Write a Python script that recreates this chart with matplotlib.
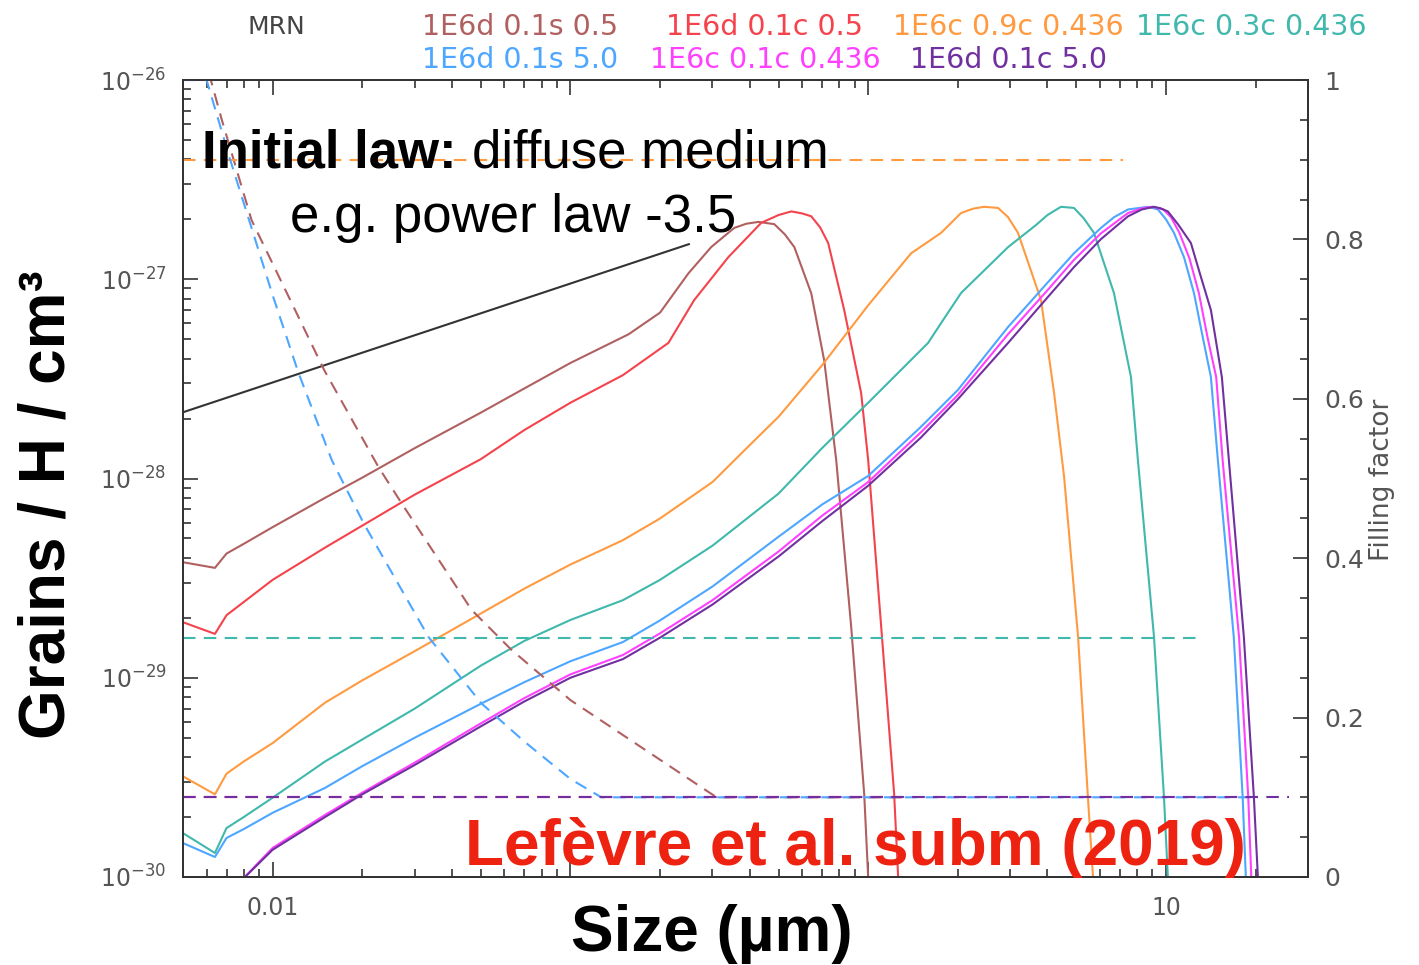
import numpy as np
import matplotlib
matplotlib.use('Agg')
import matplotlib.pyplot as plt
from matplotlib.ticker import LogLocator, FixedLocator, MultipleLocator, NullFormatter

# grain size distributions (left axis)
mrn_x = [0.005, 0.25]
mrn_y = [2.15e-28, 1.5e-27]

brown_x = [0.005, 0.0064, 0.007, 0.008, 0.01, 0.015, 0.02, 0.03, 0.05, 0.07, 0.1, 0.157, 0.2, 0.249, 0.297,
           0.355, 0.39, 0.428, 0.484, 0.525, 0.565, 0.644, 0.712, 0.781, 0.877, 0.970, 1.0, 1.02]
brown_y = [3.8e-29, 3.56e-29, 4.2e-29, 4.7e-29, 5.7e-29, 8.0e-29, 1.01e-28, 1.42e-28, 2.14e-28, 2.83e-28,
           3.8e-28, 5.3e-28, 6.8e-28, 1.07e-27, 1.45e-27, 1.81e-27, 1.9e-27, 1.94e-27, 1.89e-27, 1.68e-27,
           1.45e-27, 8.5e-28, 3.9e-28, 1.24e-28, 1.8e-29, 2.6e-30, 1.0e-30, 5e-31]

red_x = [0.005, 0.0064, 0.007, 0.008, 0.01, 0.015, 0.02, 0.03, 0.05, 0.07, 0.1, 0.15, 0.2133, 0.2606, 0.339,
         0.4375, 0.5, 0.552, 0.6, 0.644, 0.69, 0.734, 0.831, 0.947, 1.0, 1.106, 1.222, 1.261]
red_y = [1.9e-29, 1.66e-29, 2.06e-29, 2.4e-29, 3.1e-29, 4.5e-29, 5.8e-29, 8.3e-29, 1.25e-28, 1.75e-28,
         2.4e-28, 3.3e-28, 4.79e-28, 7.87e-28, 1.29e-27, 1.92e-27, 2.1e-27, 2.19e-27, 2.14e-27, 2.07e-27,
         1.82e-27, 1.52e-27, 7.0e-28, 2.69e-28, 1.24e-28, 1.8e-29, 2.64e-30, 1.0e-30]

orange_x = [0.005, 0.0064, 0.007, 0.008, 0.01, 0.015, 0.02, 0.03, 0.05, 0.07, 0.1, 0.15, 0.2, 0.3, 0.4,
            0.5, 0.7, 1.0, 1.394, 1.758, 2.051, 2.25, 2.449, 2.73, 2.95, 3.185, 3.806, 4.21, 4.55, 5.07,
            5.47, 5.69]
orange_y = [3.2e-30, 2.6e-30, 3.3e-30, 3.8e-30, 4.7e-30, 7.5e-30, 9.7e-30, 1.36e-29, 2.1e-29, 2.8e-29,
            3.7e-29, 4.9e-29, 6.3e-29, 9.6e-29, 1.47e-28, 2.04e-28, 3.7e-28, 7.4e-28, 1.35e-27, 1.71e-27,
            2.15e-27, 2.26e-27, 2.31e-27, 2.28e-27, 2.05e-27, 1.71e-27, 7.87e-28, 2.69e-28, 1.02e-28, 1.6e-29,
            2.52e-30, 1.0e-30]

teal_x = [0.005, 0.0064, 0.007, 0.008, 0.01, 0.015, 0.02, 0.03, 0.05, 0.07, 0.1, 0.15, 0.2, 0.3, 0.5,
          0.7, 1.0, 1.589, 1.758, 2.051, 2.95, 3.66, 4.0, 4.44, 4.91, 5.3, 5.73, 6.69, 7.63, 8.05, 9.12,
          9.85, 10.15]
teal_y = [1.66e-30, 1.32e-30, 1.76e-30, 2.0e-30, 2.5e-30, 3.8e-30, 4.9e-30, 7.0e-30, 1.15e-29, 1.53e-29,
          1.95e-29, 2.45e-29, 3.1e-29, 4.6e-29, 8.4e-29, 1.42e-28, 2.4e-28, 4.79e-28, 6.03e-28, 8.53e-28,
          1.45e-27, 1.87e-27, 2.1e-27, 2.31e-27, 2.28e-27, 2.02e-27, 1.71e-27, 8.53e-28, 3.23e-28, 1.24e-28,
          1.6e-29, 2.52e-30, 1.0e-30]

blue_x = [0.005, 0.0064, 0.007, 0.008, 0.01, 0.015, 0.02, 0.03, 0.05, 0.07, 0.1, 0.15, 0.2, 0.3, 0.5,
          0.7, 1.0, 1.5, 2.0, 2.95, 4.0, 4.91, 6.05, 6.7, 7.46, 8.7, 9.4, 10.0, 10.64, 11.5, 12.42, 13.3,
          14.16, 14.94, 16.9, 18.1, 18.55]
blue_y = [1.48e-30, 1.26e-30, 1.57e-30, 1.74e-30, 2.1e-30, 2.8e-30, 3.6e-30, 5.0e-30, 7.4e-30, 9.5e-30,
          1.21e-29, 1.51e-29, 1.94e-29, 2.87e-29, 5.1e-29, 7.4e-29, 1.03e-28, 1.81e-28, 2.78e-28, 5.76e-28,
          9.6e-28, 1.35e-27, 1.81e-27, 2.05e-27, 2.24e-27, 2.31e-27, 2.24e-27, 2.0e-27, 1.71e-27, 1.29e-27,
          8.53e-28, 5.1e-28, 3.23e-28, 1.24e-28, 1.6e-29, 2.52e-30, 1.0e-30]

magenta_x = [0.0078, 0.01, 0.015, 0.02, 0.03, 0.05, 0.07, 0.1, 0.15, 0.2, 0.3, 0.5, 0.7, 1.0, 1.5, 2.0,
             2.95, 4.0, 4.91, 6.05, 7.46, 8.3, 9.0, 9.8, 10.4, 11.1, 12.0, 12.9, 13.8, 14.75, 15.5, 17.6,
             18.9, 19.35]
magenta_y = [9.5e-31, 1.4e-30, 2.05e-30, 2.65e-30, 3.75e-30, 5.9e-30, 7.9e-30, 1.04e-29, 1.3e-29, 1.67e-29,
             2.45e-29, 4.3e-29, 6.5e-29, 9.6e-29, 1.7e-28, 2.62e-28, 5.3e-28, 8.8e-28, 1.25e-27, 1.7e-27,
             2.15e-27, 2.27e-27, 2.31e-27, 2.24e-27, 2.05e-27, 1.71e-27, 1.27e-27, 8.53e-28, 5.1e-28, 3.23e-28,
             1.24e-28, 1.6e-29, 2.52e-30, 1.0e-30]

purple_x = [0.0078, 0.01, 0.015, 0.02, 0.03, 0.05, 0.07, 0.1, 0.15, 0.2, 0.3, 0.5, 0.7, 1.0, 1.5, 2.0,
            2.95, 4.0, 4.91, 6.05, 7.46, 8.3, 9.12, 9.6, 10.15, 11.0, 12.13, 13.0, 14.16, 15.41, 16.27,
            18.27, 19.74, 20.36]
purple_y = [9.5e-31, 1.37e-30, 2.0e-30, 2.6e-30, 3.65e-30, 5.7e-30, 7.6e-30, 1.0e-29, 1.24e-29, 1.59e-29,
            2.33e-29, 4.06e-29, 6.1e-29, 9.2e-29, 1.6e-28, 2.5e-28, 4.79e-28, 8.1e-28, 1.15e-27, 1.59e-27,
            2.07e-27, 2.24e-27, 2.31e-27, 2.27e-27, 2.19e-27, 1.88e-27, 1.52e-27, 1.07e-27, 7.0e-28, 3.23e-28,
            1.24e-28, 1.6e-29, 2.52e-30, 1.0e-30]

# filling factors (right axis)
ff_brown_x = [0.005, 0.0062, 0.00675, 0.0085, 0.0149, 0.0227, 0.0271, 0.0466, 0.0634, 0.1, 0.29, 0.31, 1.3]
ff_brown = [1.0, 1.0, 0.95, 0.824, 0.636, 0.514, 0.469, 0.335, 0.285, 0.222, 0.107, 0.1, 0.1]
ff_blue_x = [0.005, 0.006, 0.0072, 0.01, 0.0122, 0.0158, 0.0202, 0.0334, 0.0502, 0.07, 0.1, 0.127, 20.0]
ff_blue = [1.0, 1.0, 0.90, 0.73, 0.633, 0.523, 0.444, 0.301, 0.218, 0.17, 0.123, 0.1, 0.1]
ff_red_x, ff_red = [0.005, 1.3], [0.1, 0.1]
ff_orange_x, ff_orange = [0.005, 7.2], [0.9, 0.9]
ff_teal_x, ff_teal = [0.005, 12.9], [0.3, 0.3]
ff_magenta_x, ff_magenta = [0.005, 19.5], [0.1, 0.1]
ff_purple_x, ff_purple = [0.005, 25.9], [0.1, 0.1]

labels = ['1E6d 0.1s 0.5', '1E6d 0.1c 0.5', '1E6c 0.9c 0.436', '1E6c 0.3c 0.436',
          '1E6d 0.1s 5.0', '1E6c 0.1c 0.436', '1E6d 0.1c 5.0']
colors = ['#b06060', '#f4434c', '#ff9a40', '#40b8ac', '#4da6ff', '#ff40ff', '#7030a0']

W, H = 1419, 965
fig = plt.figure(figsize=(W / 100, H / 100), dpi=100)
ax = fig.add_axes([183 / W, 1 - 877 / H, 1125 / W, 797 / H])
ax2 = ax.twinx()

dash = (0, (6, 4))
lw = 1.5
solid = [(brown_x, brown_y), (red_x, red_y), (orange_x, orange_y), (teal_x, teal_y),
         (blue_x, blue_y), (magenta_x, magenta_y), (purple_x, purple_y)]
ffs = [(ff_brown_x, ff_brown), (ff_red_x, ff_red), (ff_orange_x, ff_orange), (ff_teal_x, ff_teal),
       (ff_blue_x, ff_blue), (ff_magenta_x, ff_magenta), (ff_purple_x, ff_purple)]

ax.plot(mrn_x, mrn_y, color='#333333', lw=lw)
for (x, y), c in zip(solid, colors):
    ax.plot(x, y, color=c, lw=lw)
for (x, y), c in zip(ffs, colors):
    ax2.plot(x, y, color=c, lw=lw, linestyle=dash)

ax.set_xscale('log')
ax.set_yscale('log')
ax.set_xlim(0.005, 30)
ax.set_ylim(1e-30, 1e-26)
ax2.set_ylim(0, 1)

axcol = '#333333'
labcol = '#555555'
for a in (ax, ax2):
    for s in a.spines.values():
        s.set_color(axcol)
        s.set_linewidth(1.3)

ax.set_xticks([0.01, 0.1, 1, 10])
ax.set_xticklabels(['0.01', '', '', '10'])
ax.xaxis.set_minor_locator(LogLocator(base=10, subs=np.arange(2, 10)))
ax.xaxis.set_minor_formatter(NullFormatter())
ax.yaxis.set_major_locator(FixedLocator([1e-30, 1e-29, 1e-28, 1e-27, 1e-26]))
ax.yaxis.set_minor_locator(LogLocator(base=10, subs=np.arange(2, 10), numticks=10))
ax.yaxis.set_minor_formatter(NullFormatter())
ax.tick_params(which='both', direction='in', top=True, right=False, color=axcol,
               labelcolor=labcol, labelsize=17, width=1.2)
ax.tick_params(which='major', length=11)
ax.tick_params(which='minor', length=6)
ax.tick_params(axis='x', pad=14)
ax.tick_params(axis='y', pad=12)

ax2.set_yticks([0, 0.2, 0.4, 0.6, 0.8, 1.0])
ax2.set_yticklabels(['0', '0.2', '0.4', '0.6', '0.8', '1'])
ax2.yaxis.set_minor_locator(MultipleLocator(0.05))
ax2.tick_params(which='both', direction='in', left=False, right=True, color=axcol,
                labelcolor=labcol, labelsize=18, width=1.2, pad=12)
ax2.tick_params(which='major', length=11)
ax2.tick_params(which='minor', length=6)

# legend as coloured text
fig.text(248 / W, 1 - 27 / H, 'MRN', color='#444444', fontsize=18, va='center', ha='left')
legpos = [(422, 27), (666, 27), (893, 27), (1136, 27), (422, 60), (650, 60), (910, 60)]
for (px, py), t, c in zip(legpos, labels, colors):
    fig.text(px / W, 1 - py / H, t, color=c, fontsize=20.5, va='center', ha='left')

fig.text(1382 / W, 1 - 480 / H, 'Filling factor', rotation=90, color=labcol, fontsize=19,
         ha='center', va='center')

sans = ['Liberation Sans', 'DejaVu Sans']
fig.text(48 / W, 1 - 505 / H, 'Grains / H / cm³', rotation=90, fontsize=46, fontweight='bold',
         family=sans, ha='center', va='center')
fig.text(712 / W, 1 - 951 / H, 'Size (µm)', fontsize=46, fontweight='bold', family=sans,
         ha='center', va='baseline')

fig.text(202 / W, 1 - 167 / H, 'Initial law:', fontsize=38, fontweight='bold', family=sans,
         ha='left', va='baseline')
fig.text(472 / W, 1 - 167 / H, 'diffuse medium', fontsize=38, family=sans, ha='left', va='baseline')
fig.text(290 / W, 1 - 232 / H, 'e.g. power law -3.5', fontsize=38, family=sans, ha='left', va='baseline')
fig.text(465 / W, 1 - 865 / H, 'Lefèvre et al. subm (2019)', fontsize=46, fontweight='bold',
         family=sans, color='#ee2211', ha='left', va='baseline')

fig.savefig('out.png', dpi=100)
